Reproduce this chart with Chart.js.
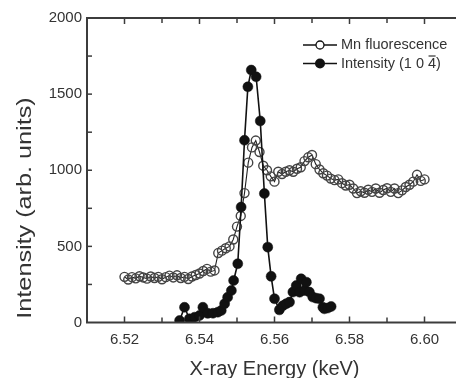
<!DOCTYPE html>
<html>
<head>
<meta charset="utf-8">
<script src="https://cdn.jsdelivr.net/npm/chart.js@4"></script>
<style>
  html, body { margin: 0; padding: 0; background: #fff; overflow: hidden; }
  #wrap { width: 456px; height: 378px; overflow: hidden; }
</style>
</head>
<body>
<div id="wrap"><canvas id="xasChart" width="470" height="378"></canvas></div>
<script>
// Mn fluorescence (open circles)
const mnEnergy = [
  6.520, 6.521, 6.522, 6.523, 6.524, 6.525, 6.526, 6.527, 6.528, 6.529,
  6.530, 6.531, 6.532, 6.533, 6.534, 6.535, 6.536, 6.537, 6.538, 6.539,
  6.540, 6.541, 6.542, 6.543, 6.544, 6.545, 6.546, 6.547, 6.548, 6.549,
  6.550, 6.551, 6.552, 6.553, 6.554, 6.555, 6.556, 6.557, 6.558, 6.559,
  6.560, 6.561, 6.562, 6.563, 6.564, 6.565, 6.566, 6.567, 6.568, 6.569,
  6.570, 6.571, 6.572, 6.573, 6.574, 6.575, 6.576, 6.577, 6.578, 6.579,
  6.580, 6.581, 6.582, 6.583, 6.584, 6.585, 6.586, 6.587, 6.588, 6.589,
  6.590, 6.591, 6.592, 6.593, 6.594, 6.595, 6.596, 6.597, 6.598, 6.599,
  6.600
];
const mnCounts = [
  300, 282, 298, 290, 304, 296, 288, 302, 292, 300,
  284, 298, 308, 296, 310, 292, 300, 286, 302, 312,
  322, 338, 352, 334, 342, 456, 472, 488, 500, 545,
  630, 700, 850, 1050, 1150, 1195, 1120, 1030, 1000, 960,
  925, 990, 975, 990, 1000, 990, 1010, 1020, 1060, 1085,
  1100, 1040, 1005, 980, 965, 945, 935, 940, 915, 900,
  905, 880, 850, 862, 852, 872, 858, 880, 852, 870,
  882, 858, 880, 850, 868, 890, 905, 925, 970, 930,
  940
];

// Intensity (1 0 -4) reflection (filled circles)
const braggEnergy = [
  6.5347, 6.5360, 6.5373, 6.5387, 6.5400, 6.5409, 6.5422, 6.5436, 6.5449, 6.5458,
  6.5467, 6.5475, 6.5485, 6.5491, 6.5502, 6.5511, 6.5520, 6.5529, 6.5538, 6.5551,
  6.5562, 6.5573, 6.5582, 6.5591, 6.5600, 6.5613, 6.5622, 6.5631, 6.5640, 6.5649,
  6.5658, 6.5667, 6.5671, 6.5680, 6.5685, 6.5693, 6.5702, 6.5711, 6.5720, 6.5729,
  6.5733, 6.5742, 6.5751
];
const braggCounts = [
  13, 100, 24, 35, 46, 100, 60, 61, 68, 79,
  123, 166, 210, 276, 386, 758, 1197, 1548, 1658, 1614,
  1324, 847, 495, 303, 156, 83, 110, 123, 134, 200,
  243, 199, 287, 210, 265, 200, 167, 160, 156, 100,
  90, 95, 105
];

const xTickLabels = ['6.52', '6.54', '6.56', '6.58', '6.60'];
const yTickLabels = ['0', '500', '1000', '1500', '2000'];
const legendLabels = ['Mn fluorescence', 'Intensity (1 0 4)'];
const xTitle = 'X-ray Energy (keV)';
const yTitle = 'Intensity (arb. units)';

const FONT = '"Liberation Sans", Arial, Helvetica, sans-serif';
const INK = '#111';
const TEXT = '#333';
const FRAME = '#3c3c3c';

function toPoints(xs, ys) {
  return xs.map((x, i) => ({ x: x, y: ys[i] }));
}

// frame, inward ticks, axis titles and legend
const decorations = {
  id: 'decorations',
  afterDraw(chart) {
    const { ctx, chartArea: a, scales: { x, y } } = chart;
    ctx.save();

    // frame
    ctx.strokeStyle = FRAME;
    ctx.lineWidth = 2;
    ctx.strokeRect(a.left, a.top, a.right - a.left, a.bottom - a.top);

    // x ticks every 0.01 on bottom and top
    ctx.lineWidth = 1.5;
    for (let k = 651; k <= 661; k++) {
      const v = k / 100;
      const px = x.getPixelForValue(v);
      const len = xTickLabels.includes(v.toFixed(2)) ? 6 : 5;
      ctx.beginPath();
      ctx.moveTo(px, a.bottom); ctx.lineTo(px, a.bottom - len);
      ctx.moveTo(px, a.top); ctx.lineTo(px, a.top + len);
      ctx.stroke();
    }
    // y ticks every 250
    for (let v = 250; v < 2000; v += 250) {
      const py = y.getPixelForValue(v);
      ctx.beginPath();
      ctx.moveTo(a.left, py); ctx.lineTo(a.left + 5, py);
      ctx.stroke();
    }

    // axis titles
    ctx.fillStyle = TEXT;
    ctx.font = '20px ' + FONT;
    ctx.textAlign = 'center';
    ctx.textBaseline = 'alphabetic';
    ctx.fillText(xTitle, (a.left + a.right) / 2, 375);

    ctx.save();
    ctx.translate(31, 208);
    ctx.rotate(-Math.PI / 2);
    ctx.scale(1.2, 1);
    ctx.font = '21px ' + FONT;
    ctx.fillText(yTitle, 0, 0);
    ctx.restore();

    // legend
    const rows = [45, 63.5];
    ctx.font = '14.5px ' + FONT;
    ctx.textAlign = 'left';
    ctx.textBaseline = 'middle';
    rows.forEach((ry, i) => {
      ctx.strokeStyle = INK;
      ctx.lineWidth = 1.6;
      ctx.beginPath();
      ctx.moveTo(303, ry); ctx.lineTo(337, ry);
      ctx.stroke();
      ctx.beginPath();
      ctx.arc(320, ry, i === 0 ? 4 : 5, 0, Math.PI * 2);
      if (i === 0) {
        ctx.fillStyle = '#fff';
        ctx.fill();
        ctx.lineWidth = 1.3;
        ctx.stroke();
      } else {
        ctx.fillStyle = INK;
        ctx.fill();
      }
      ctx.fillStyle = TEXT;
      ctx.fillText(legendLabels[i], 341, ry);
    });
    // bar over the 4 in (1 0 4)
    const full = ctx.measureText(legendLabels[1]).width;
    const tail = ctx.measureText('4)').width;
    const four = ctx.measureText('4').width;
    const bx = 341 + full - tail;
    ctx.strokeStyle = TEXT;
    ctx.lineWidth = 1.2;
    ctx.beginPath();
    ctx.moveTo(bx + 0.5, rows[1] - 7.5);
    ctx.lineTo(bx + four - 0.5, rows[1] - 7.5);
    ctx.stroke();

    ctx.restore();
  }
};

new Chart(document.getElementById('xasChart').getContext('2d'), {
  type: 'scatter',
  data: {
    datasets: [
      {
        label: legendLabels[1],
        data: toPoints(braggEnergy, braggCounts),
        showLine: true,
        borderColor: INK,
        borderWidth: 1.6,
        pointRadius: 5,
        pointBackgroundColor: INK,
        pointBorderColor: INK,
        pointBorderWidth: 0.5,
        order: 0
      },
      {
        label: legendLabels[0],
        data: toPoints(mnEnergy, mnCounts),
        showLine: true,
        borderColor: '#222',
        borderWidth: 1.1,
        pointRadius: 4.5,
        pointBackgroundColor: 'rgba(0,0,0,0)',
        pointBorderColor: '#444',
        pointBorderWidth: 1.4,
        order: 1
      }
    ]
  },
  options: {
    responsive: false,
    animation: false,
    layout: { padding: { top: 18, right: 5, left: 0, bottom: 0 } },
    plugins: { legend: { display: false }, tooltip: { enabled: false } },
    scales: {
      x: {
        type: 'linear',
        min: 6.51,
        max: 6.61,
        grid: { display: false, drawTicks: false },
        border: { display: false },
        afterFit: (s) => { s.height = 55.5; },
        ticks: {
          stepSize: 0.01,
          padding: 8,
          color: TEXT,
          font: { family: FONT, size: 15 },
          maxRotation: 0,
          autoSkip: false,
          callback: (v) => xTickLabels.includes(Number(v).toFixed(2)) ? Number(v).toFixed(2) : ''
        }
      },
      y: {
        min: 0,
        max: 2000,
        grid: { display: false, drawTicks: false },
        border: { display: false },
        afterFit: (s) => { s.width = 87; },
        ticks: {
          stepSize: 500,
          padding: 5,
          color: TEXT,
          font: { family: FONT, size: 15 },
          callback: (v) => yTickLabels.includes(String(v)) ? String(v) : ''
        }
      }
    }
  },
  plugins: [decorations]
});
</script>
</body>
</html>
